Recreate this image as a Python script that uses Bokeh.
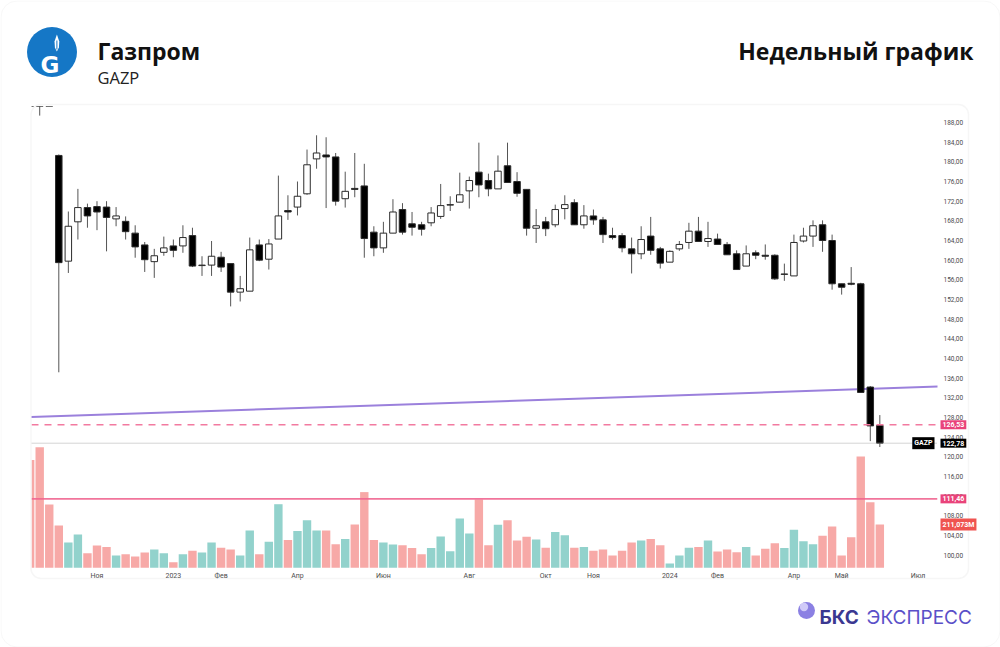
import pandas as pd
from bokeh.plotting import figure
from bokeh.models import (Range1d, FixedTicker, Label, BoxAnnotation, Span, ColumnDataSource)
from bokeh.embed import file_html
from bokeh.resources import INLINE

# ---------------- data (weekly GAZP) ----------------
dates = pd.date_range("2022-09-19", periods=90, freq="7D")

opens = [205.0, 199.0, 196.0,
         181.3, 159.8, 167.8, 170.7, 170.9, 170.8, 168.4, 167.9, 165.5, 163.1,
         159.7, 161.6, 162.9, 162.9, 165.0, 158.9, 159.0, 160.6, 159.3, 153.5,
         153.7, 163.1, 160.2, 164.3, 170.1, 170.8, 173.5, 180.6, 181.4, 181.0,
         172.5, 174.6, 175.1, 165.7, 162.5, 165.5, 170.3, 167.4, 167.2, 167.6,
         168.9, 171.2, 171.8, 174.1, 177.9, 176.2, 174.5, 179.2, 176.0, 174.4,
         166.5, 167.8, 167.2, 170.5, 171.7, 167.2, 169.0, 168.2, 165.0, 165.0,
         162.3, 161.3, 164.9, 162.3, 159.6, 162.3, 163.6, 165.9, 163.8, 164.3,
         163.2, 161.3, 158.8, 161.5, 161.0, 161.0, 157.1, 156.8, 163.9, 164.9,
         167.2, 164.0, 155.2, 155.3, 155.2, 134.2, 126.4]
highs = [209.0, 203.0, 199.0,
         181.5, 169.9, 174.5, 171.5, 172.0, 172.0, 170.8, 168.9, 167.1, 163.7,
         162.3, 164.8, 164.2, 167.1, 166.6, 160.8, 163.9, 161.7, 159.3, 156.8,
         164.6, 164.2, 164.3, 177.2, 173.2, 176.0, 182.5, 185.4, 185.0, 181.8,
         178.0, 181.8, 179.6, 166.9, 167.8, 172.4, 171.6, 169.8, 167.8, 170.8,
         175.5, 173.0, 177.8, 177.0, 183.9, 177.6, 181.3, 183.9, 177.9, 174.4,
         170.4, 168.8, 171.3, 173.2, 172.4, 171.2, 170.3, 168.8, 166.6, 165.5,
         164.6, 166.9, 168.8, 162.7, 162.0, 163.9, 167.6, 168.8, 167.8, 165.4,
         163.7, 162.0, 163.0, 162.0, 163.2, 161.2, 159.3, 165.2, 166.6, 168.1,
         168.1, 165.2, 155.2, 158.6, 155.4, 134.4, 128.5]
lows = [197.0, 189.4, 193.0,
        137.2, 157.4, 164.2, 166.6, 166.1, 161.8, 166.9, 164.2, 160.5, 157.6,
        156.4, 160.9, 160.6, 161.5, 158.6, 156.8, 156.8, 157.6, 150.6, 151.6,
        153.7, 159.8, 158.1, 164.3, 168.2, 169.1, 173.3, 178.6, 170.6, 171.1,
        170.7, 172.8, 160.5, 160.8, 161.5, 165.5, 165.2, 165.0, 165.0, 166.9,
        168.4, 170.0, 171.8, 170.5, 172.8, 173.0, 174.5, 175.8, 172.9, 165.0,
        163.5, 164.9, 166.7, 168.3, 167.2, 166.4, 167.2, 163.5, 164.2, 161.6,
        157.3, 160.2, 161.1, 158.3, 159.6, 161.9, 162.3, 163.8, 162.7, 163.2,
        161.1, 158.1, 158.8, 160.2, 160.1, 156.0, 155.8, 156.8, 163.6, 162.7,
        161.7, 154.0, 153.0, 154.9, 133.1, 123.2, 122.0]
closes = [200.0, 196.0, 194.0,
          159.5, 166.9, 170.7, 169.0, 169.8, 168.7, 169.0, 165.8, 162.7, 160.1,
          160.9, 162.5, 162.0, 164.6, 158.8, 159.0, 160.8, 158.6, 153.5, 154.2,
          162.1, 160.0, 163.3, 169.0, 169.8, 173.0, 179.4, 181.8, 181.0, 172.0,
          174.0, 174.4, 164.4, 162.5, 165.5, 169.8, 165.7, 166.7, 166.3, 169.6,
          171.1, 171.3, 173.3, 176.2, 175.3, 174.5, 178.1, 175.8, 173.6, 166.5,
          167.0, 166.4, 170.3, 171.3, 167.2, 169.0, 168.2, 165.2, 164.6, 162.5,
          161.3, 164.2, 162.0, 159.4, 161.8, 163.2, 165.9, 163.8, 164.4, 163.2,
          161.1, 158.1, 161.3, 161.0, 160.8, 156.2, 157.2, 163.6, 164.9, 167.0,
          164.0, 155.2, 154.5, 155.1, 133.1, 126.3, 122.78]
volumes_m = [526, 588, 309,
             206, 123.5, 162.5, 71.5, 109, 101, 60, 66.6, 55, 75,
             89, 71.5, 27.6, 66.6, 83, 75, 123.5, 97.5, 89, 60,
             182, 66.6, 127, 310, 135, 179, 232, 182, 182, 115,
             140, 211, 369, 135, 123.5, 114, 110.5, 96, 66.6, 96,
             153, 81, 240.5, 167, 333, 110.5, 209.6, 232, 133, 151,
             138, 97.5, 174, 159, 97.5, 101, 83, 89, 60, 83,
             123.5, 133, 141, 110.5, 21, 60, 97.5, 101, 133, 79.6,
             89, 76, 101, 60, 92.6, 120, 96, 185, 130, 115,
             156, 201.5, 60, 149.5, 543, 320, 211.073]

ticker_name = "GAZP"
level_dashed = 126.53
level_solid = 111.46
trend_dates = ["2022-09-19", "2024-07-29"]
trend_prices = [128.09, 134.43]

price_ticks = list(range(100, 189, 4))
month_tick_dates = ["2022-11-07", "2023-01-02", "2023-02-06", "2023-04-03", "2023-06-05",
                    "2023-08-07", "2023-10-02", "2023-11-06", "2024-01-01", "2024-02-05",
                    "2024-04-01", "2024-05-06", "2024-07-01"]
month_tick_labels = ["Ноя", "2023", "Фев", "Апр", "Июн", "Авг", "Окт", "Ноя", "2024",
                     "Фев", "Апр", "Май", "Июл"]

# ---------------- derived ----------------
t0 = dates[0]
def week_pos(d):
    return int(round((pd.Timestamp(d) - t0).days / 7))

xs = [week_pos(d) for d in dates]
up = [c >= o for o, c in zip(opens, closes)]
src = ColumnDataSource(dict(
    x=xs, o=opens, h=highs, l=lows, c=closes, v=volumes_m,
    top=[max(o, c) for o, c in zip(opens, closes)],
    bot=[min(o, c) for o, c in zip(opens, closes)],
    body=["#ffffff" if u else "#000000" for u in up],
    vcol=["#92d2cc" if u else "#f7a9a7" for u in up],
))

def fmt(v):
    return f"{v:.2f}".replace(".", ",")

# ---------------- geometry ----------------
W, H = 1000, 647
FL, FR, FT, FB = 31, 937, 106, 568          # chart frame edges (canvas px)
bar_px = 9.547
x0 = 3 - (58.3 - FL) / bar_px
x1 = x0 + (FR - FL) / bar_px
ppu = 4.917                                   # px per rouble
y_lo = 100 - (FB - 554.7) / ppu
y_hi = 100 + (554.7 - FT) / ppu
mpp = 4.875                                   # million shares per px
v_lo = -(FB - 567.3) * mpp
v_hi = v_lo + (FB - FT) * mpp

# ================= chart figure =================
p = figure(width=W, height=H, output_backend="svg", toolbar_location=None, title=None,
           x_range=Range1d(x0, x1), y_range=Range1d(y_lo, y_hi),
           y_axis_location="right",
           min_border_left=FL, min_border_right=W - FR,
           min_border_top=FT, min_border_bottom=H - FB)
p.extra_y_ranges = {"vol": Range1d(v_lo, v_hi)}
p.background_fill_color = "#ffffff"
p.border_fill_color = "#ffffff"
p.outline_line_color = None
p.grid.grid_line_color = None

p.yaxis.ticker = FixedTicker(ticks=price_ticks)
p.yaxis.major_label_overrides = {t: fmt(t) for t in price_ticks}
p.xaxis.ticker = FixedTicker(ticks=[week_pos(d) for d in month_tick_dates])
p.xaxis.major_label_overrides = {week_pos(d): lab for d, lab in zip(month_tick_dates, month_tick_labels)}
for ax in (p.xaxis[0], p.yaxis[0]):
    ax.axis_line_color = None
    ax.major_tick_line_color = None
    ax.minor_tick_line_color = None
    ax.major_tick_out = 0
    ax.minor_tick_out = 0
    ax.major_tick_in = 0
    ax.minor_tick_in = 0
    ax.major_label_text_font = "Roboto"
    ax.major_label_text_color = "#4a4a4a"
p.yaxis.major_label_text_font_size = "6.5px"
p.yaxis.major_label_standoff = 6
p.xaxis.major_label_text_font_size = "7px"
p.xaxis.major_label_standoff = 3

p.vbar(x="x", top="v", bottom=0, width=0.88, source=src, y_range_name="vol",
       fill_color="vcol", line_color=None)

p.add_layout(Span(location=closes[-1], dimension="width", line_color="#a8a8a8",
                  line_dash="1 1", line_width=1))
p.add_layout(Span(location=level_dashed, dimension="width", line_color="#f27aa0",
                  line_dash="7 6", line_width=1.5))
p.add_layout(Span(location=level_solid, dimension="width", line_color="#ef6590",
                  line_alpha=0.9, line_width=1.6))

p.line([week_pos(d) for d in trend_dates], trend_prices, line_color="#9b80dc", line_width=2)

p.segment(x0="x", y0="h", x1="x", y1="l", source=src, line_color="#555555", line_width=1)
p.vbar(x="x", top="top", bottom="bot", width=0.68, source=src,
       fill_color="body", line_color="#2b2b2b", line_width=1)

# ================= overlay figure (header, footer, frames, price tags) =================
o = figure(width=W, height=H, output_backend="svg", toolbar_location=None, title=None,
           x_range=Range1d(0, W), y_range=Range1d(H, 0), min_border=0,
           x_axis_location=None, y_axis_location=None)
o.extra_y_ranges = {
    "price": Range1d(y_lo - (H - FB) / ppu, y_lo + FB / ppu),
    "vol": Range1d(v_lo - (H - FB) * mpp, v_lo + FB * mpp),
}
o.grid.visible = False
o.outline_line_color = None
o.background_fill_alpha = 0
o.border_fill_alpha = 0
o.styles = {"position": "absolute", "left": "0px", "top": "0px"}

def box(L, R, T, B, **kw):
    o.add_layout(BoxAnnotation(left=L, right=R, top=T, bottom=B, **kw))

def label(X, Y, text, size, color, style="normal", align="left", font="Open Sans"):
    o.add_layout(Label(x=X, y=Y, text=text, text_align=align, text_baseline="alphabetic",
                       text_color=color, text_font=font, text_font_size=size,
                       text_font_style=style))

box(0.5, 999.5, 0.5, 646.5, fill_color=None, line_color="#e3e3e3", line_width=1, border_radius=16)
box(30.5, 968, 104, 578, fill_color=None, line_color="#e2e2e2", line_width=1.5, border_radius=10)

# price tags
def tag(text, y, bg, X=FR + 3, align="left", yr="price"):
    o.add_layout(Label(x=X, y=y, y_range_name=yr, text=text,
                       text_align=align, text_baseline="middle", text_color="#ffffff",
                       text_font="Roboto", text_font_size="7px", text_font_style="bold",
                       background_fill_color=bg, padding=2))

tag(fmt(level_dashed), level_dashed, "#e9437a")
tag(fmt(level_solid), level_solid, "#e9437a")
tag(fmt(closes[-1]), closes[-1], "#000000")
tag(ticker_name, closes[-1], "#000000", X=FR - 3, align="right")
tag(f"{volumes_m[-1]:.3f}".replace(".", ",") + "M", volumes_m[-1], "#ef5350", yr="vol")

# Gazprom logo
o.circle(x=[51.5], y=[51.5], radius=25, fill_color="#1577c6", line_color=None)
label(49.5, 64, "G", "23px", "#ffffff", style="bold", align="center", font="DejaVu Sans")
o.patch([56.4, 58.8, 58.4, 56.4, 54.4, 54.0], [34, 41, 47, 51, 47, 41],
        fill_color="#ffffff", line_color=None)
o.segment(x0=[56.4], y0=[40], x1=[56.4], y1=[49], line_color="#1577c6", line_width=1)

label(97, 50, "Газпром", "23px", "#111111", style="bold")
label(97, 77, "GAZP", "16.5px", "#222222")
label(973, 50, "Недельный график", "23px", "#111111", style="bold", align="right")

# BKS Express logo
o.circle(x=[806], y=[610], radius=8.5, fill_color="#8b80e3", line_color=None)
o.circle(x=[803.5], y=[606.5], radius=4.2, fill_color="#dcd7fc", fill_alpha=0.85, line_color=None)
label(819, 617, "БКС", "19px", "#3b3891", style="bold", font="Inter")
label(866, 617, "ЭКСПРЕСС", "19px", "#5a50c8", font="Inter")

open("out.html", "w").write(file_html([p, o], INLINE))
